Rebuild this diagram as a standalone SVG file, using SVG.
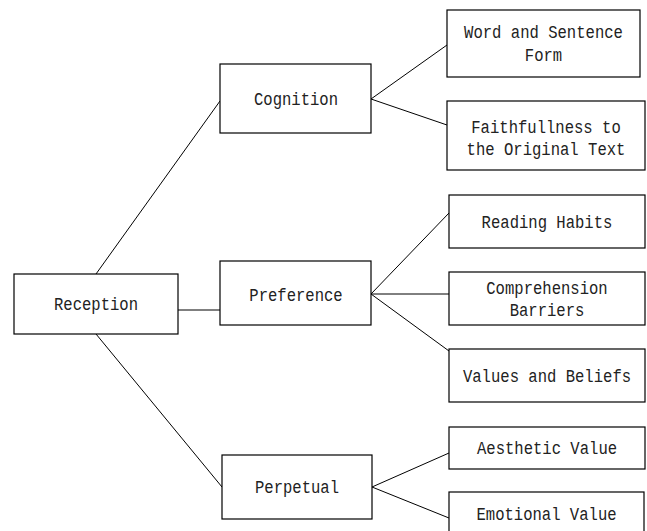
<svg xmlns="http://www.w3.org/2000/svg" width="647" height="531" viewBox="0 0 647 531">
<style>
.box{fill:#fff;stroke:#000;stroke-width:1.2}
.lbl{font-family:"Liberation Mono","DejaVu Sans Mono",monospace;font-size:19px;fill:#222;text-anchor:middle}
.con line{stroke:#000;stroke-width:1}
</style>
<rect width="647" height="531" fill="#fff"/>
<g id="connectors" class="con">
<line x1="96" y1="274" x2="220" y2="101"/>
<line x1="178" y1="310" x2="220" y2="310"/>
<line x1="96" y1="334" x2="222" y2="487"/>
<line x1="371" y1="99" x2="447" y2="45"/>
<line x1="371" y1="99" x2="447" y2="125"/>
<line x1="371" y1="294" x2="449" y2="213"/>
<line x1="371" y1="294" x2="449" y2="294"/>
<line x1="371" y1="294" x2="449" y2="351"/>
<line x1="372" y1="487" x2="449" y2="453"/>
<line x1="372" y1="487" x2="449" y2="518"/>
</g>
<g id="reception"><rect class="box" x="14" y="274" width="164" height="60"/><text class="lbl" transform="translate(96,310) scale(0.82,1)">Reception</text></g>
<g id="cognition"><rect class="box" x="220" y="64" width="151" height="69"/><text class="lbl" transform="translate(296,105) scale(0.82,1)">Cognition</text></g>
<g id="preference"><rect class="box" x="220" y="261" width="151" height="64"/><text class="lbl" transform="translate(296,301) scale(0.82,1)">Preference</text></g>
<g id="perpetual"><rect class="box" x="222" y="455" width="150" height="64"/><text class="lbl" transform="translate(297,493) scale(0.82,1)">Perpetual</text></g>
<g id="word-form"><rect class="box" x="447" y="10" width="193" height="67"/><text class="lbl" transform="translate(543.5,38) scale(0.82,1)">Word and Sentence</text><text class="lbl" transform="translate(543.5,61) scale(0.82,1)">Form</text></g>
<g id="faithfullness"><rect class="box" x="447" y="101" width="198" height="69"/><text class="lbl" transform="translate(546,133) scale(0.82,1)">Faithfullness to</text><text class="lbl" transform="translate(546,155) scale(0.82,1)">the Original Text</text></g>
<g id="reading-habits"><rect class="box" x="449" y="195" width="196" height="53"/><text class="lbl" transform="translate(547,228) scale(0.82,1)">Reading Habits</text></g>
<g id="comprehension"><rect class="box" x="449" y="272" width="196" height="53"/><text class="lbl" transform="translate(547,294) scale(0.82,1)">Comprehension</text><text class="lbl" transform="translate(547,316) scale(0.82,1)">Barriers</text></g>
<g id="values"><rect class="box" x="449" y="349" width="196" height="53"/><text class="lbl" transform="translate(547,382) scale(0.82,1)">Values and Beliefs</text></g>
<g id="aesthetic"><rect class="box" x="449" y="427" width="196" height="42"/><text class="lbl" transform="translate(547,454) scale(0.82,1)">Aesthetic Value</text></g>
<g id="emotional"><rect class="box" x="449" y="492" width="195" height="45"/><text class="lbl" transform="translate(546.5,520) scale(0.82,1)">Emotional Value</text></g>
</svg>
